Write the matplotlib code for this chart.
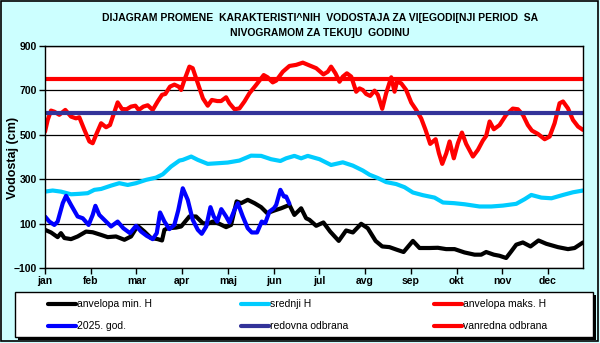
import matplotlib
matplotlib.use('Agg')
import matplotlib.pyplot as plt
from matplotlib.lines import Line2D
from matplotlib.patches import Rectangle

# dan u godini (0 = 1. jan), ocitano sa slike
min_x = [0, 4, 8.4, 10.6, 12.9, 17.3, 21.7, 27.3, 31.7, 37.3, 41.7, 47.2, 52.8, 57.2, 61.6, 66.1,
         70.5, 74.9, 77.8, 79.4, 81.6, 87.1, 90.5, 96, 100.4, 104.9, 108.2, 111.5, 115.9, 120.4,
         123.7, 127.4, 130.4, 134.8, 139.3, 143.7, 147.7, 152.5, 157, 162.5, 165.8, 170.3, 173.6,
         175.8, 180.3, 185.1, 189.6, 195.3, 200.2, 204.7, 210.2, 214.6, 219.8, 224.2, 229, 234,
         238.4, 244.6, 249, 255.7, 261.2, 266.7, 272.3, 278.9, 285.6, 290, 293.3, 298.4, 302.2,
         306.6, 310, 313.3, 317.7, 322.8, 328.1, 333.3, 341, 347.7, 352.1, 357.7]
min_h = [72, 60, 39, 57, 35, 30, 42, 64, 61, 49, 39, 42, 27, 42, 90, 64,
         35, 30, 24, 72, 79, 82, 87, 132, 132, 102, 99, 109, 99, 84,
         94, 200, 192, 207, 192, 174, 147, 159, 169, 184, 139, 169, 124,
         117, 90, 105, 64, 22, 69, 60, 99, 79, 22, -3, -6, -18,
         -28, 22, -10, -10, -9, -15, -15, -30, -40, -40, -28, -40, -45,
         -55, -25, 5, 15, -3, 24, 9, -6, -15, -10, 15]

sred_x = [0, 5.1, 10.6, 17.3, 22.8, 28.4, 32.8, 37.3, 43.9, 49.4, 55, 60.5, 67.2, 73.8, 78.3, 83.8,
          89.4, 91.6, 97.2, 101.6, 108.2, 115, 121.5, 129.3, 137, 143.7, 150.3, 156.5, 160.3,
          165.8, 170.3, 174.7, 182.5, 190.2, 198, 204.7, 211.3, 215.8, 221.3, 226.8, 233.5, 239,
          244.6, 251.2, 259, 264.6, 272, 279, 288.9, 296.7, 304.4, 313.3, 318.9, 323.3, 330,
          336.7, 344.4, 351, 357.7]
sred_h = [244, 249, 244, 232, 234, 237, 252, 256, 271, 282, 274, 282, 297, 307, 322, 357,
          384, 387, 402, 387, 369, 372, 375, 384, 406, 405, 390, 382, 394,
          405, 394, 405, 390, 364, 376, 361, 339, 320, 305, 287, 278, 264,
          240, 228, 217, 195, 192, 187, 177, 177, 181, 189, 210, 229, 217,
          214, 229, 241, 249]

maks_x = [0, 1.8, 4, 6.2, 9.5, 13.5, 17.3, 20.6, 22.8, 26.2, 29.5, 31.7, 34.4, 37.3, 40.6, 43.2,
          45.5, 48.3, 51.2, 54.3, 57.2, 60.1, 62.3, 65.4, 68.3, 71.6, 74.9, 77.8, 80, 83.1, 86,
          88.9, 90.5, 92.7, 96, 98.2, 101.6, 105, 108.2, 110.9, 114.5, 117.1, 120.4, 122.6, 126,
          129.3, 132.6, 135.9, 140.3, 145.4, 148, 151.4, 153.7, 158.1, 162.5, 167, 171.4, 176,
          180.3, 185.1, 188, 190.2, 193.1, 195.8, 198, 200.7, 203.6, 206.9, 209.1, 211.3, 213.5,
          216.2, 219.1, 221.3, 224.2, 226.8, 230.2, 232.4, 234, 236.8, 240.1, 243.5, 246.8, 250.1,
          253, 256.1, 259.7, 261.9, 264.1, 266.8, 269, 271.8, 274.5, 277.2, 280, 284.5, 287.8,
          291.1, 293.3, 295.6, 298.4, 302.2, 306.6, 311, 314.4, 317.7, 321, 323.7, 327.7, 332.2,
          335.5, 338.8, 342.1, 344.4, 347.7, 351, 354.4, 357.7]
maks_h = [514, 567, 609, 604, 590, 612, 582, 574, 579, 522, 470, 462, 507, 552, 534, 544,
          590, 646, 616, 615, 627, 631, 612, 627, 633, 612, 650, 680, 684, 717, 726,
          717, 702, 747, 807, 800, 732, 664, 631, 657, 652, 652, 669, 642, 615,
          619, 650, 687, 724, 769, 759, 736, 744, 784, 810, 815, 825, 812,
          800, 772, 784, 807, 777, 739, 762, 777, 762, 694, 709, 702, 684,
          675, 699, 680, 617, 687, 759, 694, 739, 732, 702, 645, 612, 574,
          522, 459, 480, 417, 369, 417, 470, 394, 462, 510, 459, 402, 432,
          474, 495, 560, 525, 544, 590, 618, 615, 590, 544, 519, 504, 480,
          492, 552, 642, 650, 619, 567, 537, 522]

god_x = [0, 2.9, 6.2, 8.4, 11.8, 14, 17.3, 21.7, 25.1, 29, 31.7, 33.5, 36.1, 40.6, 43.9, 48.3,
         52.1, 56.5, 60.5, 63.9, 67.6, 71.6, 74.3, 76.5, 79.4, 82.7, 86, 88.6, 91.6, 94.9, 98.2,
         101.6, 104.2, 107.2, 110, 112.2, 114.5, 117.2, 120.4, 122.6, 126, 128.2, 131.5, 134.8,
         137.5, 141, 144.1, 146.4, 149.2, 152.2, 153.7, 156.5, 158.8, 160.3, 162.5]
god_h = [132, 109, 94, 109, 192, 225, 184, 132, 124, 94, 139, 180, 139, 109, 87, 109,
         79, 57, 90, 64, 45, 30, 57, 150, 109, 75, 94, 160, 259, 207, 117,
         72, 54, 87, 174, 132, 109, 165, 132, 105, 162, 192, 132, 79,
         60, 60, 109, 102, 154, 169, 184, 252, 222, 222, 189]

redovna = 600
vanredna = 750

meseci = ['jan', 'feb', 'mar', 'apr', 'maj', 'jun', 'jul', 'avg', 'sep', 'okt', 'nov', 'dec']
dana_u_mesecu = 30.4

plt.rcParams['font.family'] = ['Liberation Sans', 'DejaVu Sans']

fig = plt.figure(figsize=(6, 3.43), dpi=100, facecolor='#CCFFFF')
ax = fig.add_axes([0.075, 0.2187, 0.8967, 0.6472])
ax.set_facecolor('white')

ax.plot(min_x, min_h, color='black', lw=3, solid_capstyle='round', label='anvelopa min. H')
ax.plot(sred_x, sred_h, color='#00CCFF', lw=3, solid_capstyle='round', label='srednji H')
ax.plot(maks_x, maks_h, color='#FF0000', lw=3, solid_capstyle='round', label='anvelopa maks. H')
ax.plot(god_x, god_h, color='#0000FF', lw=3, solid_capstyle='round', label='2025. god.')
ax.axhline(redovna, color='#333399', lw=3, label='redovna odbrana')
ax.axhline(vanredna, color='#FF0000', lw=3, label='vanredna odbrana')

ax.set_xlim(0, 357.7)
ax.set_ylim(-100, 900)
ax.set_yticks(range(-100, 901, 200))
ax.set_xticks([i * dana_u_mesecu for i in range(12)])
ax.set_xticklabels(meseci)
ax.tick_params(axis='both', direction='out', length=4, width=1, color='black',
               labelsize=7.5, pad=2)
for lbl in ax.get_xticklabels() + ax.get_yticklabels():
    lbl.set_fontweight('bold')
ax.yaxis.grid(True, color='black', lw=0.9)
ax.set_axisbelow(True)
for s in ax.spines.values():
    s.set_color('black')
    s.set_linewidth(1)

fig.text(0.021, 0.54, 'Vodostaj (cm)', rotation=90, ha='center', va='center',
         fontsize=9, fontweight='bold')
fig.text(0.533, 0.948, 'DIJAGRAM PROMENE  KARAKTERISTI^NIH  VODOSTAJA ZA VI[EGODI[NJI PERIOD  SA',
         ha='center', va='center', fontsize=7.5, fontweight='bold')
fig.text(0.533, 0.905, 'NIVOGRAMOM ZA TEKU]U  GODINU',
         ha='center', va='center', fontsize=7.5, fontweight='bold')

# okvir slike
fig.patches.append(Rectangle((0.0015, 0.006), 0.995, 0.99, transform=fig.transFigure,
                             fill=False, edgecolor='black', lw=1.2))

# legenda - rucno, tri kolone jednakog razmaka, redom kao serije
W, H = 600.0, 343.0
fig.patches.append(Rectangle((18 / W, 1 - 340 / H), 578 / W, 45 / H, transform=fig.transFigure,
                             facecolor='black', edgecolor='black', lw=0))
fig.patches.append(Rectangle((15 / W, 1 - 337 / H), 578 / W, 45 / H, transform=fig.transFigure,
                             facecolor='white', edgecolor='black', lw=1))
for k, h in enumerate(ax.get_lines()):
    red, kol = divmod(k, 3)
    y = 1 - (304 + red * 22) / H
    x0 = (48 + kol * 193) / W
    fig.add_artist(Line2D([x0, x0 + 28 / W], [y, y], transform=fig.transFigure,
                          color=h.get_color(), lw=3, solid_capstyle='round'))
    fig.text(x0 + 29 / W, y, h.get_label(), ha='left', va='center', fontsize=7.5)

fig.savefig('out.png', dpi=100, facecolor=fig.get_facecolor())
